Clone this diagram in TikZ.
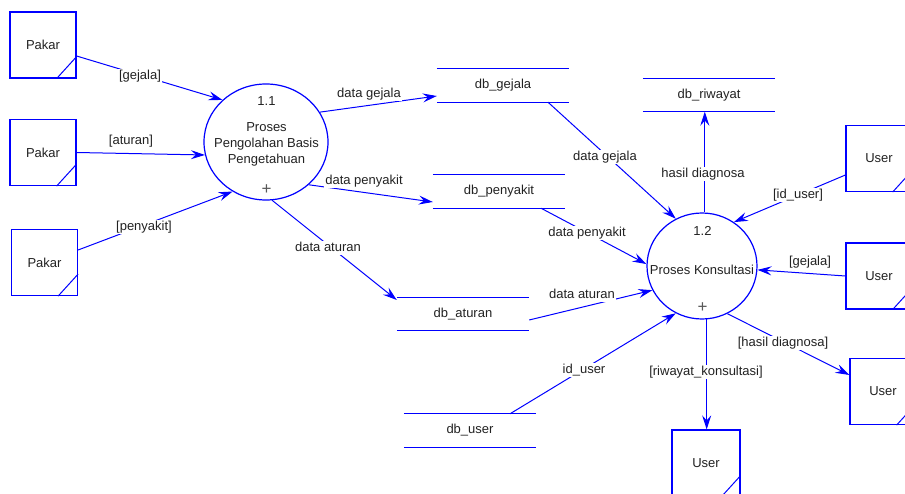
\documentclass[tikz,border=0pt]{standalone}
\usepackage{fontspec}
\setmainfont{Liberation Sans}
\usetikzlibrary{arrows.meta,shapes.geometric}
\definecolor{flow}{RGB}{0,0,255}
\definecolor{ink}{RGB}{34,34,34}

\begin{document}
\begin{tikzpicture}[x=1pt,y=-1pt,
  font=\fontsize{13}{16}\selectfont,
  every node/.style={text=ink},
  flowline/.style={draw=flow, line width=1pt},
  arr/.style={flowline, -{Stealth[length=14pt,width=9pt,inset=5pt]}},
  entity/.style={draw=flow, line width=1.2pt, minimum width=66pt, minimum height=66pt, inner sep=0pt},
  proc/.style={draw=flow, line width=1.2pt, ellipse, inner sep=0pt},
  store/.style={minimum width=132pt, minimum height=33pt, inner sep=0pt},
  storeline/.style={draw=flow, line width=1.3pt},
  lbl/.style={fill=white, inner sep=1pt, text height=9.5pt, text depth=2.5pt},
  plus/.style={text=ink!75, font=\fontsize{17}{17}\selectfont, inner sep=0pt},
]
\useasboundingbox[fill=white] (0,0) rectangle (905,494);
\clip (0,0) rectangle (905,494);

% external entities
\node[entity] (pk1) at (43,45) {Pakar};
\node[entity] (pk2) at (43,152.5) {Pakar};
\node[entity] (pk3) at (44.5,262.5) {Pakar};
\node[entity] (u1) at (879,158.5) {User};
\node[entity] (u2) at (879,276) {User};
\node[entity] (u3) at (883,391.5) {User};
\node[entity, minimum width=68pt, minimum height=67pt] (u4) at (706,463.5) {User};
\foreach \e in {pk1,pk2,pk3,u1,u2,u3,u4}
  \draw[flowline] ([xshift=-20pt]\e.south east) -- ([yshift=22pt]\e.south east);

% processes
\node[proc, minimum width=124pt, minimum height=116pt] (p11) at (266,142) {};
\node (p11n) at (266.5,101) {1.1};
\node[align=center] (p11t) at (266.5,144.5) {Proses\\Pengolahan Basis\\Pengetahuan};
\node[plus] (p11p) at (266.5,190) {+};
\node[proc, minimum width=110pt, minimum height=106pt] (p12) at (702,266) {};
\node (p12n) at (702.5,231) {1.2};
\node (p12t) at (702,269.5) {Proses Konsultasi};
\node[plus] (p12p) at (702.5,308) {+};

% data stores
\node[store] (sg) at (503,85.5) {db\_gejala};
\node[store] (sr) at (709,95) {db\_riwayat};
\node[store] (sp) at (499,191.5) {db\_penyakit};
\node[store] (sa) at (463,314) {db\_aturan};
\node[store] (su) at (470,430.5) {db\_user};
\foreach \s in {sg,sr,sp,sa,su}
  \draw[storeline] (\s.north west) -- (\s.north east) (\s.south west) -- (\s.south east);

% flows into process 1.1 and out to the stores
\draw[arr] ([yshift=-11pt]pk1.east) -- (p11.136);
\draw[arr] (pk2.east) -- (p11.192);
\draw[arr] ([yshift=12.5pt]pk3.east) -- (p11.236);
\draw[arr] (p11.29.5) -- ([yshift=-10.5pt]sg.west);
\draw[arr] (p11.315) -- ([yshift=-10.5pt]sp.west);
\draw[arr] (p11.276) -- ([yshift=14pt]sa.west);

% flows around process 1.2
\draw[arr] ([xshift=45pt]sg.south) -- (p12.119);
\draw[arr] ([xshift=42pt]sp.south) -- (p12.178);
\draw[arr] ([yshift=-6pt]sa.east) -- (p12.206.5);
\draw[arr] ([xshift=40pt]su.north) -- (p12.241);
\draw[arr] (p12.87) -- (p12.87 |- sr.south);
\draw[arr] ([yshift=-16.5pt]u1.west) -- (p12.54);
\draw[arr] (u2.west) -- (p12.356);
\draw[arr] (p12.298) -- ([yshift=16.5pt]u3.west);
\draw[arr] (p12.275) -- (p12.275 |- u4.north);

% flow labels
\node[lbl] (l1) at (140,76) {[gejala]};
\node[lbl] (l2) at (131,141) {[aturan]};
\node[lbl] (l3) at (144,227) {[penyakit]};
\node[lbl] (l4) at (369,94) {data gejala};
\node[lbl] (l5) at (364,181) {data penyakit};
\node[lbl] (l6) at (328,248) {data aturan};
\node[lbl] (l7) at (605,157) {data gejala};
\node[lbl] (l8) at (587,233) {data penyakit};
\node[lbl] (l9) at (582,295) {data aturan};
\node[lbl] (l10) at (584,370) {id\_user};
\node[lbl] (l11) at (703,174) {hasil diagnosa};
\node[lbl] (l12) at (798,195) {[id\_user]};
\node[lbl] (l13) at (810,262) {[gejala]};
\node[lbl] (l14) at (783,343) {[hasil diagnosa]};
\node[lbl] (l15) at (706,372) {[riwayat\_konsultasi]};
\end{tikzpicture}
\end{document}
